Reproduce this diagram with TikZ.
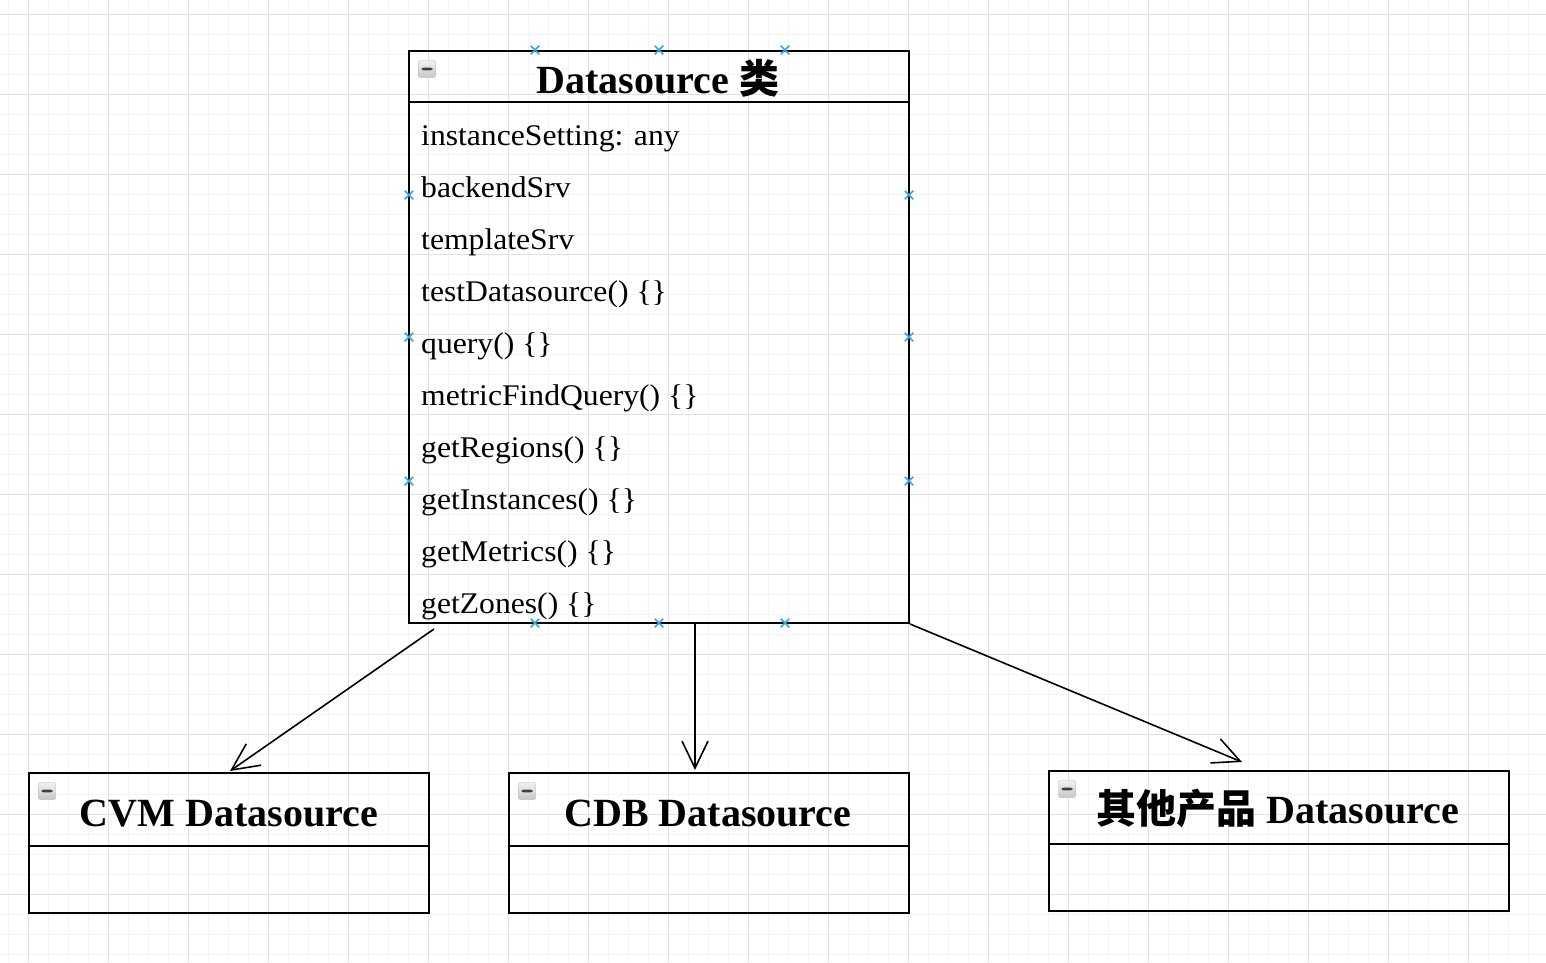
\documentclass[tikz,border=0pt]{standalone}
\usepackage{fontspec}
\setmainfont{Liberation Serif}
\newfontfamily\itemfont{Liberation Serif}[FakeStretch=1.055]
\newfontfamily\cjk{Noto Sans CJK SC}
\usetikzlibrary{arrows.meta,shapes.misc}
\definecolor{gridmajor}{HTML}{E0E0E0}
\definecolor{gridminor}{HTML}{F4F4F4}
\definecolor{handlecol}{HTML}{2FA8E8}
\tikzset{
  umlbox/.style={draw=black, line width=2pt, rectangle, inner sep=0pt},
  sepline/.style={draw=black, line width=2pt},
  titletext/.style={font=\fontsize{40}{44}\selectfont\bfseries, inner sep=0pt},
  itemtext/.style={font=\itemfont\fontsize{30}{34}\selectfont, inner sep=0pt, anchor=base west},
  icon/.style={rectangle, rounded corners=2pt, minimum size=17pt, inner sep=0pt,
    draw=gray!60, top color=gray!10, bottom color=gray!45,
    path picture={\fill[black!75] ([xshift=-5.5pt,yshift=-1.3pt]path picture bounding box.center) rectangle ([xshift=5.5pt,yshift=1.3pt]path picture bounding box.center);}},
  handle/.style={cross out, draw=handlecol, line width=1.5pt, minimum size=7pt, inner sep=0pt},
  conn/.style={draw=black, line width=1.6pt, -{Straight Barb[length=27pt,width=26pt]}}
}
\begin{document}
\begin{tikzpicture}[x=1pt,y=-1pt]
\useasboundingbox (0,0) rectangle (1546,962);
\fill[white] (0,0) rectangle (1546,962);
% grid
\foreach \x in {8,28,...,1546} \draw[gridminor, line width=1pt] (\x,0) -- (\x,962);
\foreach \y in {14,34,...,962} \draw[gridminor, line width=1pt] (0,\y) -- (1546,\y);
\foreach \x in {28,108,...,1546} \draw[gridmajor, line width=1pt] (\x,0) -- (\x,962);
\foreach \y in {14,94,...,962} \draw[gridmajor, line width=1pt] (0,\y) -- (1546,\y);

% main class
\node[umlbox, minimum width=500pt, minimum height=572pt] (main) at (659,337) {};
\draw[sepline] ([yshift=-52pt]main.north west) -- ([yshift=-52pt]main.north east);
\node[titletext, anchor=base] (mainT) at (658,93) {Datasource {\cjk\bfseries 类}};
\node[icon] (ic0) at (427,69) {};
\node[itemtext] (it0) at (421,145) {instanceSetting: any};
\node[itemtext] (it1) at (421,197) {backendSrv};
\node[itemtext] (it2) at (421,249) {templateSrv};
\node[itemtext] (it3) at (421,301) {testDatasource() \{\}};
\node[itemtext] (it4) at (421,353) {query() \{\}};
\node[itemtext] (it5) at (421,405) {metricFindQuery() \{\}};
\node[itemtext] (it6) at (421,457) {getRegions() \{\}};
\node[itemtext] (it7) at (421,509) {getInstances() \{\}};
\node[itemtext] (it8) at (421,561) {getMetrics() \{\}};
\node[itemtext] (it9) at (421,613) {getZones() \{\}};

% child classes
\node[umlbox, minimum width=400pt, minimum height=140pt] (cvm) at (229,843) {};
\draw[sepline] ([yshift=-74pt]cvm.north west) -- ([yshift=-74pt]cvm.north east);
\node[titletext, anchor=base] (cvmT) at (229,826) {CVM Datasource};
\node[icon] (ic1) at (47,791) {};

\node[umlbox, minimum width=400pt, minimum height=140pt] (cdb) at (709,843) {};
\draw[sepline] ([yshift=-74pt]cdb.north west) -- ([yshift=-74pt]cdb.north east);
\node[titletext, anchor=base] (cdbT) at (708,826) {CDB Datasource};
\node[icon] (ic2) at (527,791) {};

\node[umlbox, minimum width=460pt, minimum height=140pt] (oth) at (1279,841) {};
\draw[sepline] ([yshift=-74pt]oth.north west) -- ([yshift=-74pt]oth.north east);
\node[titletext, anchor=base] (othT) at (1278,823) {{\cjk\bfseries 其他产品} Datasource};
\node[icon] (ic3) at (1067,789) {};

% connection handles
\node[handle] (h1) at (535,50) {};
\node[handle] (h2) at (659,50) {};
\node[handle] (h3) at (785,50) {};
\node[handle] (h4) at (535,623) {};
\node[handle] (h5) at (659,623) {};
\node[handle] (h6) at (785,623) {};
\node[handle] (h7) at (409,195) {};
\node[handle] (h8) at (409,337) {};
\node[handle] (h9) at (409,481) {};
\node[handle] (h10) at (909,195) {};
\node[handle] (h11) at (909,337) {};
\node[handle] (h12) at (909,481) {};

% connectors
\draw[conn] ([xshift=26pt,yshift=-5pt]main.south west) -- ([xshift=1pt,yshift=1pt]cvm.north);
\draw[conn] ([xshift=36pt]main.south) -- ([xshift=-14pt,yshift=2pt]cdb.north);
\draw[conn] (main.south east) -- ([xshift=-37pt,yshift=8pt]oth.north);
\end{tikzpicture}
\end{document}
